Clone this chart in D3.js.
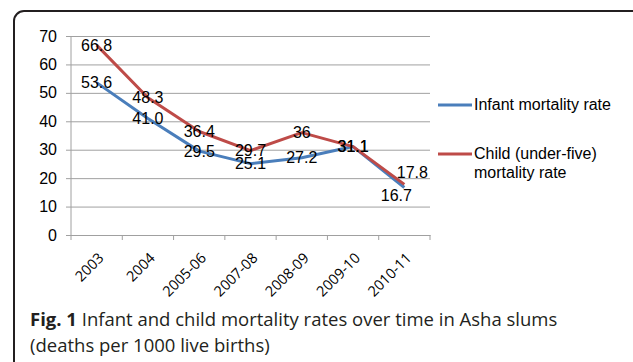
<!DOCTYPE html>
<html>
<head>
<script src="https://d3js.org/d3.v7.min.js"></script>
<style>
  body { margin: 0; background: #fff; }
</style>
</head>
<body>
<script>
var svgwidth = 633;
var svgheight = 362;

var categories = ["2003", "2004", "2005-06", "2007-08", "2008-09", "2009-10", "2010-11"];
var infant = [53.6, 41.0, 29.5, 25.1, 27.2, 31.1, 16.7];
var infantLabels = ["53.6", "41.0", "29.5", "25.1", "27.2", "31.1", "16.7"];
var child = [66.8, 48.3, 36.4, 29.7, 36, 31.1, 17.8];
var childLabels = ["66.8", "48.3", "36.4", "29.7", "36", "31.1", "17.8"];
var yTicks = [0, 10, 20, 30, 40, 50, 60, 70];
var seriesNames = ["Infant mortality rate", "Child (under-five)|mortality rate"];
var colors = ["#4a7ebb", "#be4b48"];

var svg = d3.select("body").append("svg")
  .attr("width", svgwidth)
  .attr("height", svgheight);

// frame
svg.append("rect")
  .attr("x", 14).attr("y", 11)
  .attr("width", 650).attr("height", 400)
  .attr("rx", 10)
  .attr("fill", "none")
  .attr("stroke", "#231f20")
  .attr("stroke-width", 2);

var x = d3.scaleBand().domain(categories).range([71, 430]);
var y = d3.scaleLinear().domain([0, 70]).range([235, 36]);

// gridlines + y axis
var yAxis = svg.append("g")
  .attr("transform", "translate(71,0)")
  .call(d3.axisLeft(y).tickValues(yTicks).tickSize(-(430 - 71)).tickSizeOuter(0).tickPadding(10));
yAxis.select(".domain").remove();
yAxis.selectAll(".tick line").attr("stroke", "#a0a0a0").attr("x1", -5);
yAxis.selectAll(".tick text")
  .attr("font-family", "Liberation Sans, Arial, sans-serif")
  .attr("font-size", 16)
  .attr("fill", "#000")
  .attr("x", -14);

svg.append("line")
  .attr("x1", 71).attr("x2", 71)
  .attr("y1", 36).attr("y2", 235)
  .attr("stroke", "#a0a0a0");

// x axis
var xAxis = svg.append("g")
  .attr("transform", "translate(0,235)")
  .call(d3.axisBottom(x).tickSize(0).tickPadding(0));
xAxis.select(".domain").attr("stroke", "#a0a0a0");
var edges = categories.map(function(c){ return x(c); }).concat([x(categories[categories.length-1]) + x.bandwidth()]);
svg.selectAll(".xedge").data(edges).enter().append("line")
  .attr("x1", function(d){ return d; }).attr("x2", function(d){ return d; })
  .attr("y1", 235).attr("y2", 240)
  .attr("stroke", "#a0a0a0");
xAxis.selectAll(".tick text")
  .attr("font-family", "Open Sans, sans-serif")
  .attr("font-size", 14.5)
  .attr("fill", "#000")
  .attr("text-anchor", "end")
  .attr("dy", 0)
  .attr("transform", "translate(8,24) rotate(-45)");

// lines
var line = d3.line()
  .x(function(d, i){ return x(categories[i]) + x.bandwidth() / 2; })
  .y(function(d){ return y(d); });

[infant, child].forEach(function(s, k){
  svg.append("path")
    .datum(s)
    .attr("d", line)
    .attr("fill", "none")
    .attr("stroke", colors[k])
    .attr("stroke-width", 3)
    .attr("stroke-linejoin", "round");
});

// data labels
function addLabels(vals, labels, lastDx, lastDy) {
  svg.append("g").selectAll("text").data(vals).enter().append("text")
    .attr("x", function(d, i){ return x(categories[i]) + x.bandwidth() / 2 + (i === vals.length - 1 ? lastDx : 0); })
    .attr("y", function(d, i){ return y(d) + (i === vals.length - 1 ? lastDy : 0); })
    .attr("dy", "0.36em")
    .attr("text-anchor", "middle")
    .attr("font-family", "Liberation Sans, Arial, sans-serif")
    .attr("font-size", 16)
    .attr("fill", "#000")
    .text(function(d, i){ return labels[i]; });
}
addLabels(infant, infantLabels, -8, 8);
addLabels(child, childLabels, 8, -12);

// legend
var legendY = [105, 154];
seriesNames.forEach(function(n, k){
  svg.append("line")
    .attr("x1", 438).attr("x2", 472)
    .attr("y1", legendY[k]).attr("y2", legendY[k])
    .attr("stroke", colors[k])
    .attr("stroke-width", 3);
  var t = svg.append("text")
    .attr("x", 474)
    .attr("y", legendY[k] + 5)
    .attr("font-family", "Liberation Sans, Arial, sans-serif")
    .attr("font-size", 16)
    .attr("fill", "#000");
  n.split("|").forEach(function(part, j){
    t.append("tspan").attr("x", 474).attr("dy", j === 0 ? 0 : 19).text(part);
  });
});

// caption
var cap = svg.append("text")
  .attr("x", 30).attr("y", 326)
  .attr("font-family", "Open Sans, sans-serif")
  .attr("font-size", 18.5)
  .attr("fill", "#231f20");
cap.append("tspan").attr("font-weight", "bold").text("Fig. 1");
cap.append("tspan").text(" Infant and child mortality rates over time in Asha slums");
svg.append("text")
  .attr("x", 30).attr("y", 352)
  .attr("font-family", "Open Sans, sans-serif")
  .attr("font-size", 18.5)
  .attr("fill", "#231f20")
  .text("(deaths per 1000 live births)");
</script>
</body>
</html>
